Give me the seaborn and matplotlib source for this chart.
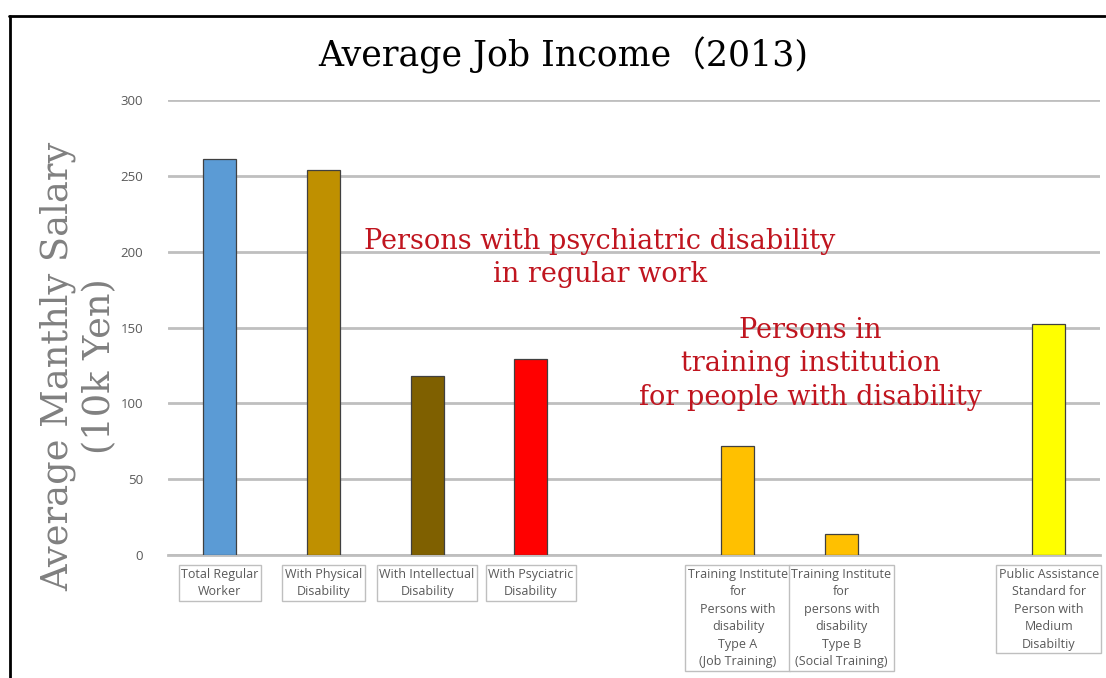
import pandas as pd
import seaborn as sns
import matplotlib.pyplot as plt
from matplotlib.lines import Line2D

# data (10k yen per month)
categories = ['Total Regular\nWorker',
              'With Physical\nDisability',
              'With Intellectual\nDisability',
              'With Psyciatric\nDisability',
              'Training Institute\nfor\nPersons with\ndisability\nType A\n(Job Training)',
              'Training Institute\nfor\npersons with\ndisability\nType B\n(Social Training)',
              'Public Assistance\nStandard for\nPerson with\nMedium\nDisabiltiy']
salary = [261, 254, 118, 129, 72, 14, 152]
bar_colors = ['#5B9BD5', '#BF9000', '#7F6000', '#FF0000', '#FFC000', '#FFC000', '#FFFF00']

# empty slots between the groups
gap1 = ' '
gap2 = '  '
order = categories[:4] + [gap1] + categories[4:6] + [gap2] + categories[6:]

df = pd.DataFrame({'category': categories, 'salary': salary})
palette = dict(zip(categories, bar_colors))

sns.set_style('white')
serif = ['DejaVu Serif', 'Noto Sans CJK JP']
label_font = ['Open Sans', 'DejaVu Sans']

fig = plt.figure(figsize=(11.06, 6.78), dpi=100)
ax = fig.add_axes([0.152, 0.1814, 0.843, 0.6711])

sns.barplot(data=df, x='category', y='salary', hue='category', order=order,
            palette=palette, saturation=1, width=0.32, edgecolor='#404040',
            linewidth=0.9, legend=False, ax=ax, zorder=3)

ax.set_ylim(0, 300)
ax.set_yticks([0, 50, 100, 150, 200, 250, 300])
ax.set_xlim(-0.5, len(order) - 0.5)
ax.yaxis.grid(True, color='#BFBFBF', linewidth=2)
ax.set_axisbelow(True)
for s in ['top', 'right', 'left']:
    ax.spines[s].set_visible(False)
ax.spines['bottom'].set_color('#BFBFBF')
ax.spines['bottom'].set_linewidth(2)
ax.tick_params(axis='both', length=0)
ax.tick_params(axis='y', pad=18)
ax.tick_params(axis='x', pad=9)
for t in ax.get_yticklabels():
    t.set_fontfamily(label_font)
    t.set_fontsize(9.5)
    t.set_color('#595959')

ax.set_xticks(range(len(order)))
ax.set_xticklabels([c.strip() for c in order], fontfamily=label_font,
                   fontsize=9, color='#595959', linespacing=1.45,
                   va='top', ha='center')
for t in ax.get_xticklabels():
    if t.get_text():
        t.set_bbox(dict(facecolor='white', edgecolor='#BFBFBF',
                        linewidth=1, boxstyle='square,pad=0.2'))

ax.set_xlabel('')
ax.set_ylabel('')
fig.text(79 / 1106, 1 - 366 / 678, 'Average Manthly Salary\n(10k Yen)',
         fontfamily=serif, fontsize=26.5, color='#808080', linespacing=1.2,
         rotation=90, ha='center', va='center', multialignment='center')

fig.text(0.509, 0.919, 'Average Job Income（2013)', fontfamily=serif,
         fontsize=25, ha='center', va='center', color='black')

ax.text(3.67, 196, 'Persons with psychiatric disability\nin regular work',
        fontfamily=serif, fontsize=19.5, color='#C0151F', ha='center',
        va='center', linespacing=1.3, zorder=4)
ax.text(5.70, 126, 'Persons in\ntraining institution\nfor people with disability',
        fontfamily=serif, fontsize=19.5, color='#C0151F', ha='center',
        va='center', linespacing=1.3, zorder=4)

# frame lines at the top and left edge of the picture
fig.add_artist(Line2D([9 / 1106, 1105 / 1106], [1 - 16 / 678, 1 - 16 / 678],
                      transform=fig.transFigure, color='black', linewidth=2))
fig.add_artist(Line2D([10 / 1106, 10 / 1106], [0, 1 - 16 / 678],
                      transform=fig.transFigure, color='black', linewidth=2))

fig.savefig('out.png', dpi=100)
